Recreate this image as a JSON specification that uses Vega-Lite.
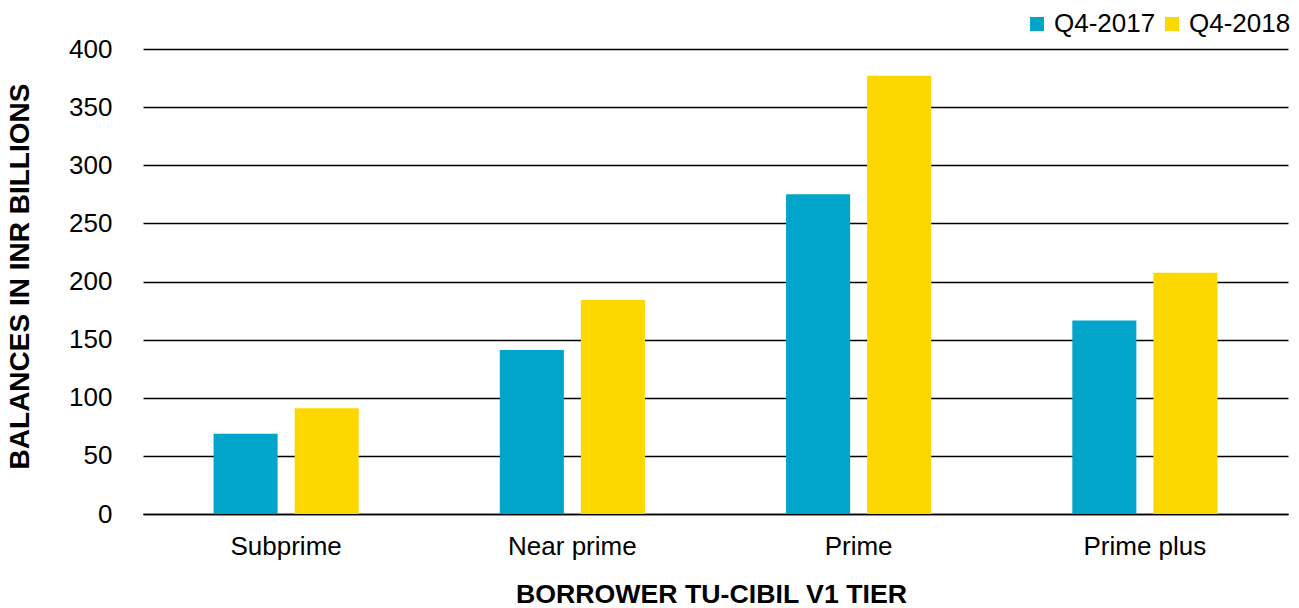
{
  "$schema": "https://vega.github.io/schema/vega-lite/v6.json",
  "autosize": {"type": "none"},
  "padding": {"left": 143, "top": 49, "right": 11, "bottom": 94},
  "width": 1145,
  "height": 465,
  "background": "white",
  "config": {
    "view": {"stroke": null},
    "font": "Liberation Sans",
    "axis": {"labelFont": "Liberation Sans", "titleFont": "Liberation Sans", "labelColor": "black", "titleColor": "black"},
    "legend": {"labelFont": "Liberation Sans"}
  },
  "data": {
    "values": [
      {"tier": "Subprime", "period": "Q4-2017", "balance": 69},
      {"tier": "Subprime", "period": "Q4-2018", "balance": 91},
      {"tier": "Near prime", "period": "Q4-2017", "balance": 141},
      {"tier": "Near prime", "period": "Q4-2018", "balance": 184},
      {"tier": "Prime", "period": "Q4-2017", "balance": 275},
      {"tier": "Prime", "period": "Q4-2018", "balance": 377},
      {"tier": "Prime plus", "period": "Q4-2017", "balance": 166.5},
      {"tier": "Prime plus", "period": "Q4-2018", "balance": 207.5}
    ]
  },
  "mark": {"type": "bar"},
  "encoding": {
    "x": {
      "field": "tier",
      "type": "nominal",
      "sort": ["Subprime", "Near prime", "Prime", "Prime plus"],
      "scale": {"paddingInner": 0.493, "paddingOuter": 0.2465},
      "axis": {
        "title": "BORROWER TU-CIBIL V1 TIER",
        "titleFontSize": 26.7,
        "titleFontWeight": "bold",
        "titlePadding": 22,
        "titleX": 568,
        "labelFontSize": 26,
        "labelAngle": 0,
        "labelPadding": 19,
        "ticks": false,
        "domain": true,
        "domainColor": "black",
        "domainWidth": 1.5,
        "grid": false
      }
    },
    "xOffset": {
      "field": "period",
      "type": "nominal",
      "scale": {"paddingInner": 0.21, "paddingOuter": 0}
    },
    "y": {
      "field": "balance",
      "type": "quantitative",
      "scale": {"domain": [0, 400], "nice": false},
      "axis": {
        "title": "BALANCES IN INR BILLIONS",
        "titleFontSize": 28,
        "titleFontWeight": "bold",
        "titlePadding": 34,
        "titleY": 227,
        "labelFontSize": 26,
        "labelPadding": 31,
        "values": [0, 50, 100, 150, 200, 250, 300, 350, 400],
        "ticks": false,
        "domain": false,
        "grid": true,
        "gridColor": "black",
        "gridWidth": 1.4
      }
    },
    "color": {
      "field": "period",
      "type": "nominal",
      "scale": {"domain": ["Q4-2017", "Q4-2018"], "range": ["#00A5C9", "#FCD800"]},
      "legend": {
        "title": null,
        "orient": "none",
        "direction": "horizontal",
        "legendX": 881,
        "legendY": -38,
        "padding": 0,
        "symbolType": "square",
        "symbolSize": 196,
        "symbolStrokeWidth": 0,
        "labelFontSize": 26,
        "labelColor": "black",
        "labelOffset": 4,
        "columnPadding": 3,
        "labelLimit": 300
      }
    }
  }
}
